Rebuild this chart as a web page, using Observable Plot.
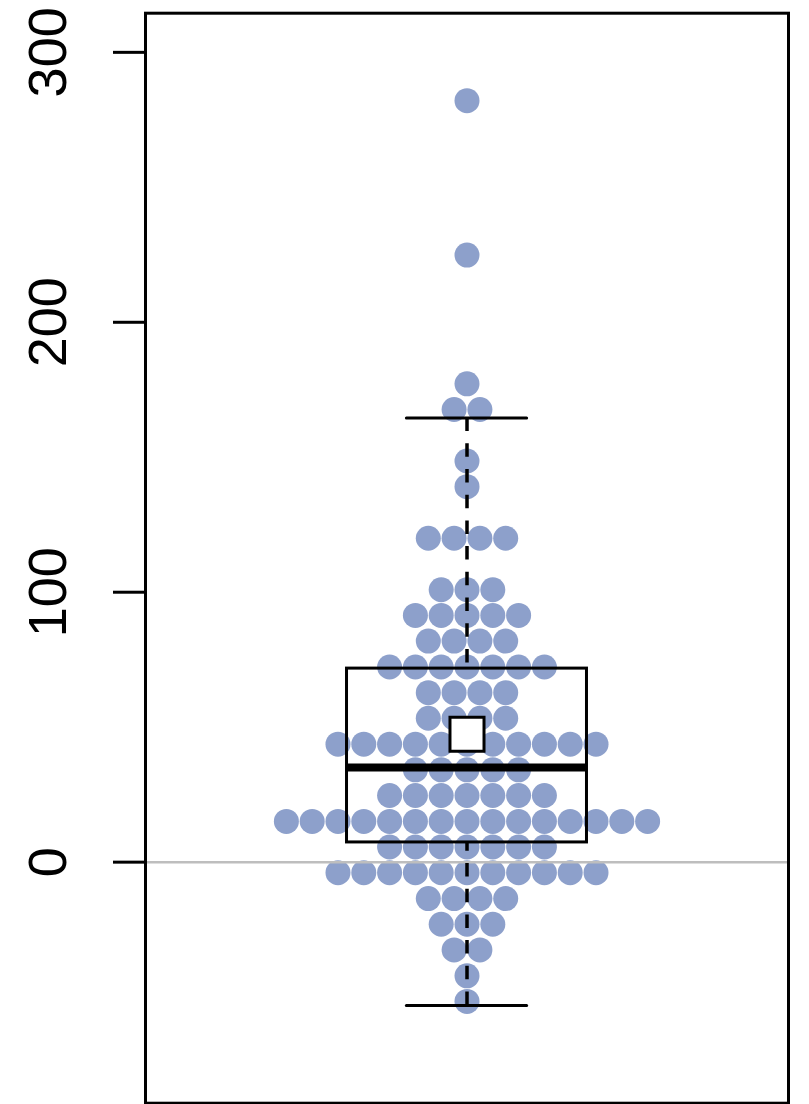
<!DOCTYPE html>
<html>
<head>
<meta charset="utf-8">
<script src="https://cdn.jsdelivr.net/npm/d3@7"></script>
<script src="https://cdn.jsdelivr.net/npm/@observablehq/plot@0.6"></script>
<style>
  html, body { margin: 0; padding: 0; background: #ffffff; }
  #chart svg { display: block; }
</style>
</head>
<body>
<div id="chart"></div>
<script>
// Beeswarm rows: binned value of each row and number of dots in it
const rowValues = [-51.6, -42.1, -32.5, -23.0, -13.5, -3.9, 5.6, 15.1, 24.7, 34.2, 43.7, 53.3, 62.8, 72.3, 81.9, 91.4, 100.9, 120.0, 139.1, 148.6, 167.7, 177.2, 224.9, 282.1];
const rowCounts = [1, 1, 2, 3, 4, 11, 7, 15, 7, 5, 11, 4, 4, 7, 4, 5, 3, 4, 1, 1, 2, 1, 1, 1];

// Box plot statistics
const whiskerLow = -53.1;
const q1 = 7.3;
const median = 35.1;
const q3 = 71.7;
const whiskerHigh = 164.5;
const meanValue = 47.4;

// Axis ticks
const yTicks = [0, 100, 200, 300];

// Build point table: each dot gets a slot offset (in dot widths) within its row
const points = rowValues.flatMap((v, i) =>
  d3.range(rowCounts[i]).map(j => ({ value: v, slot: j - (rowCounts[i] - 1) / 2 }))
);

const boxHalf = 4.65;   // box half-width in dot widths
const capHalf = 2.33;   // whisker cap half-width in dot widths

const whiskers = [
  { x: 0, from: whiskerHigh, to: q3 },
  { x: 0, from: whiskerLow, to: q1 }
];
const box = [{ x1: -boxHalf, x2: boxHalf, y1: q1, y2: q3 }];
const medianRow = [{ y: median, x1: -boxHalf, x2: boxHalf }];
const caps = [whiskerLow, whiskerHigh].map(v => ({ y: v, x1: -capHalf, x2: capHalf }));
const meanRow = [{ x: 0, y: meanValue }];

const chart = Plot.plot({
  width: 809,
  height: 1104,
  marginLeft: 145,
  marginRight: 21,
  marginTop: 12.7,
  marginBottom: 1.3,
  style: { fontFamily: "'Liberation Sans', Arial, sans-serif", background: "#ffffff", color: "#000000" },
  x: { domain: [-12.46, 12.46], axis: null },
  y: { domain: [-89.3, 314.5] },
  marks: [
    Plot.dot(points, { x: "slot", y: "value", r: 12.5, fill: "#8DA0CB" }),
    Plot.ruleY([0], { stroke: "#bebebe", strokeWidth: 2.5 }),
    Plot.ruleX(whiskers, { x: "x", y1: "from", y2: "to", stroke: "#000000", strokeWidth: 3.5, strokeDasharray: "13.5,12.2" }),
    Plot.rect(box, { x1: "x1", x2: "x2", y1: "y1", y2: "y2", fill: "none", stroke: "#000000", strokeWidth: 3 }),
    Plot.ruleY(medianRow, { y: "y", x1: "x1", x2: "x2", stroke: "#000000", strokeWidth: 8 }),
    Plot.ruleY(caps, { y: "y", x1: "x1", x2: "x2", stroke: "#000000", strokeWidth: 3, strokeLinecap: "round" }),
    Plot.dot(meanRow, { x: "x", y: "y", symbol: "square", r: 19.2, fill: "#ffffff", stroke: "#000000", strokeWidth: 3 }),
    Plot.axisY(yTicks, {
      anchor: "left",
      tickSize: 32,
      tickPadding: 48,
      tickRotate: -90,
      fontSize: 54,
      strokeWidth: 3,
      label: null
    }),
    Plot.frame({ stroke: "#000000", strokeWidth: 3 })
  ]
});

document.getElementById("chart").appendChild(chart);
</script>
</body>
</html>
